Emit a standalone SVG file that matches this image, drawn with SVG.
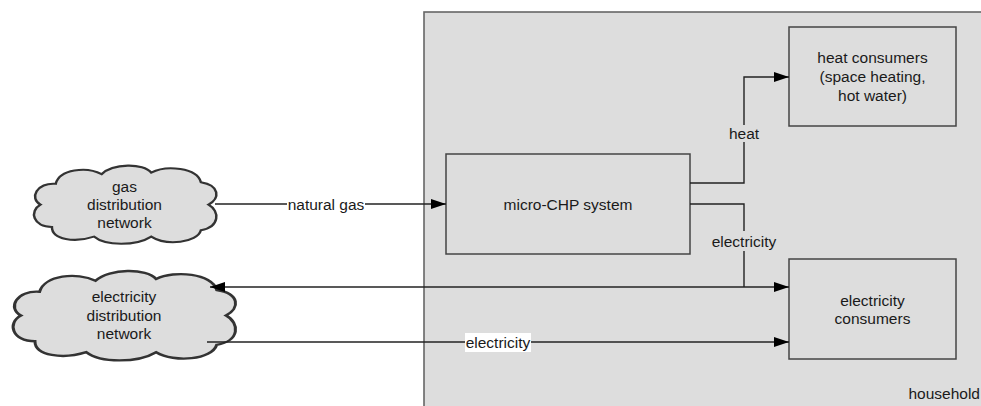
<svg xmlns="http://www.w3.org/2000/svg" width="981" height="406" viewBox="0 0 981 406">
<style>
text{font-family:"Liberation Sans",Arial,sans-serif;font-size:15.5px;fill:#1a1a1a;text-anchor:middle}
.box{fill:#dddddd;stroke:#444;stroke-width:1.5}
.cloud{fill:#dddddd;stroke:#333;stroke-width:1.3}
.conn{fill:none;stroke:#222;stroke-width:1.4}
.bgg{fill:#dddddd}
.bgw{fill:#ffffff}
</style>
<defs>
<marker id="arr" markerWidth="16" markerHeight="11" refX="15" refY="5" orient="auto-start-reverse" markerUnits="userSpaceOnUse">
<path d="M0,0 L15,5 L0,10 Z" fill="#000"/>
</marker>
<path id="cloudShape" d="M6,26 C0,22 4,12 14,13 C16,4 30,2 38,7 C44,0 60,0 64,6 C72,1 88,3 90,12 C100,14 100,22 94,26 C100,30 100,40 90,42 C88,50 72,52 64,46 C56,52 40,52 34,46 C24,50 12,48 12,40 C2,40 0,30 6,26 Z"/>
</defs>
<g id="household">
<rect x="424" y="12" width="620" height="430" fill="#dddddd" stroke="#666" stroke-width="1.6"/>
<text x="980" y="398.5" style="text-anchor:end">household</text>
</g>
<g id="gas-network">
<use href="#cloudShape" class="cloud" transform="translate(29,163) scale(1.91,1.6)" vector-effect="non-scaling-stroke"/>
<text x="124.5" y="191.5">gas</text>
<text x="124.5" y="209.5">distribution</text>
<text x="124.5" y="228">network</text>
</g>
<g id="electricity-network">
<use href="#cloudShape" class="cloud" transform="translate(7,268) scale(2.33,1.83)" vector-effect="non-scaling-stroke"/>
<text x="124" y="302">electricity</text>
<text x="124" y="320.5">distribution</text>
<text x="124" y="338.5">network</text>
</g>
<g id="micro-chp">
<rect class="box" x="446" y="154" width="244" height="100"/>
<text x="568" y="209.5">micro-CHP system</text>
</g>
<g id="heat-consumers">
<rect class="box" x="789" y="27" width="167" height="99"/>
<text x="872.5" y="63">heat consumers</text>
<text x="872.5" y="82">(space heating,</text>
<text x="872.5" y="100.5">hot water)</text>
</g>
<g id="electricity-consumers">
<rect class="box" x="789" y="259" width="167" height="100"/>
<text x="872.5" y="305.5">electricity</text>
<text x="872.5" y="324">consumers</text>
</g>
<g id="connectors">
<path class="conn" d="M215,204 L446,204" marker-end="url(#arr)"/>
<rect class="bgw" x="287" y="195" width="78" height="18"/>
<text x="326" y="209.5">natural gas</text>
<path class="conn" d="M690,183 L744,183 L744,77 L789,77" marker-end="url(#arr)"/>
<rect class="bgg" x="729" y="125" width="30" height="17"/>
<text x="744" y="139">heat</text>
<path class="conn" d="M690,204 L744,204 L744,287"/>
<rect class="bgg" x="711" y="231" width="66" height="20"/>
<text x="744" y="246.5">electricity</text>
<path class="conn" d="M210,287 L789,287" marker-start="url(#arr)" marker-end="url(#arr)"/>
<path class="conn" d="M207,342 L789,342" marker-end="url(#arr)"/>
<rect class="bgw" x="465" y="333" width="66" height="19"/>
<text x="498" y="347.5">electricity</text>
</g>
</svg>
